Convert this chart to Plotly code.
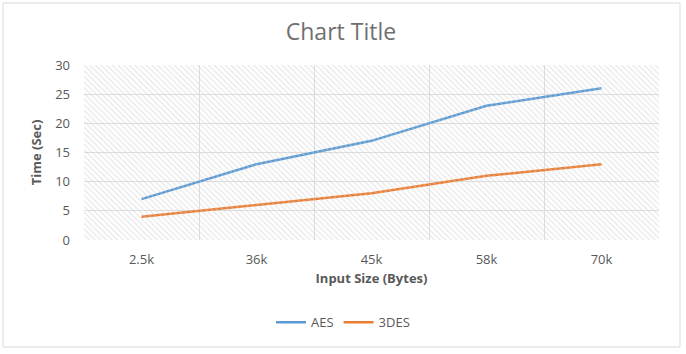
import plotly.graph_objects as go

categories = ["2.5k", "36k", "45k", "58k", "70k"]
aes = [7, 13, 17, 23, 26]
des3 = [4, 6, 8, 11, 13]

FONT = "Open Sans"
GRAY = "#595959"

fig = go.Figure()

# hatched background of the plot area (decoration)
fig.add_trace(go.Bar(
    x=[0.5], y=[1], width=[1], xaxis="x2", yaxis="y2",
    marker=dict(color="rgba(0,0,0,0)", line=dict(width=0),
                pattern=dict(shape="\\", fgcolor="#cfcfcf", bgcolor="rgba(0,0,0,0)",
                             size=4, solidity=0.3)),
    hoverinfo="skip", showlegend=False))

fig.add_trace(go.Scatter(x=categories, y=aes, mode="lines", name="AES",
                         line=dict(color="#5B9BD5", width=2.5)))
fig.add_trace(go.Scatter(x=categories, y=des3, mode="lines", name="3DES",
                         line=dict(color="#ED7D31", width=2.5)))

fig.update_layout(
    width=686, height=354,
    margin=dict(l=84, r=27, t=65, b=114, autoexpand=False),
    paper_bgcolor="white", plot_bgcolor="white",
    font=dict(family=FONT, color=GRAY, size=13),
    title=dict(text="Chart Title", x=0.497, xref="container", xanchor="center",
               y=0.91, yanchor="middle",
               font=dict(family=FONT, size=23, color="#707070")),
    xaxis=dict(type="category", range=[-0.5, len(categories) - 0.5], tickson="boundaries",
               showgrid=True, gridcolor="#dedede",
               gridwidth=1, ticks="", showline=False, zeroline=False,
               tickfont=dict(size=13, color=GRAY), ticklabelstandoff=10,
               title=dict(text="<b>Input Size (Bytes)</b>", font=dict(size=13, color=GRAY), standoff=6)),
    yaxis=dict(range=[0, 30], dtick=5, showgrid=True, gridcolor="#dedede", gridwidth=1,
               zeroline=False, showline=False, ticks="", ticklabelstandoff=13,
               tickfont=dict(size=13, color=GRAY),
               title=dict(text="<b>Time (Sec)</b>", font=dict(size=13, color=GRAY), standoff=10)),
    xaxis2=dict(overlaying="x", range=[0, 1], visible=False),
    yaxis2=dict(overlaying="y", range=[0, 1], visible=False),
    legend=dict(orientation="h", x=(343 - 84) / 575, xanchor="center",
                y=-0.47, yanchor="middle",
                font=dict(size=13, color=GRAY), bgcolor="rgba(0,0,0,0)"),
    bargap=0,
)

fig.add_shape(type="rect", xref="paper", yref="paper",
              x0=(3 - 84) / 575, x1=(680 - 84) / 575,
              y0=(240 - 347) / 175, y1=(240 - 3) / 175,
              line=dict(color="#d9d9d9", width=1), layer="below")

fig.write_html("out.html")
